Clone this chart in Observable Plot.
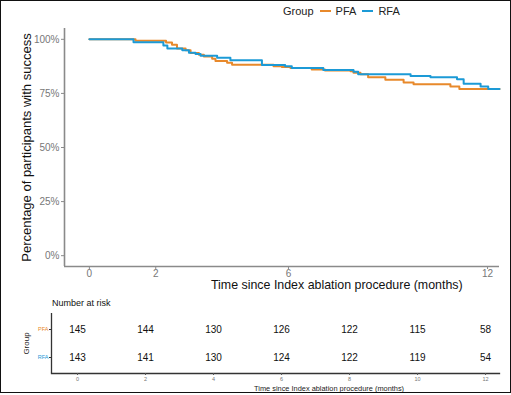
<!DOCTYPE html>
<html>
<head>
<meta charset="utf-8">
<script src="https://cdn.jsdelivr.net/npm/d3@7"></script>
<script src="https://cdn.jsdelivr.net/npm/@observablehq/plot@0.6"></script>
<style>
  body { margin: 0; background: #fff; font-family: "Liberation Sans", Arial, sans-serif; }
  #wrap { position: relative; width: 511px; height: 395px; overflow: hidden; background: #fff; }
  #wrap > * { position: absolute; }
  .frame { left: 0; top: 0; width: 509px; height: 391px; border: 1.5px solid #111; box-sizing: content-box; pointer-events: none; }
  .legend { left: 283px; top: 5px; font-size: 11px; color: #222; display: flex; align-items: center; white-space: nowrap; }
  .legend .sw { display: inline-block; width: 11px; height: 2px; margin: 0 5px 0 6px; }
  .xtitle { top: 279px; left: 211px; font-size: 12.4px; line-height: 1; color: #111; white-space: nowrap; }
  .risk-title { top: 298px; left: 52px; font-size: 9px; color: #111; white-space: nowrap; }
  .risk-xtitle { top: 384px; left: 254px; font-size: 7.4px; color: #222; white-space: nowrap; }
</style>
</head>
<body>
<div id="wrap"></div>
<script>
// ---- data ----
const groups = ["PFA", "RFA"];
const groupColors = ["#E8892B", "#1C9AD6"];

const pfaTime = [0, 1.39, 2.31, 2.49, 2.64, 2.9, 3.05, 3.3, 3.45, 3.7, 3.8, 4.15, 4.3, 5.55, 5.8, 6.06, 6.7, 7.1, 7.87, 7.96, 8.17, 8.4, 8.92, 9.47, 9.77, 10.88, 11.15, 12.36];
const pfaSurv = [100, 99.3, 98.5, 97.5, 95.7, 94.9, 93.7, 92.9, 92.1, 91.0, 90.0, 89.2, 88.3, 87.6, 87.2, 86.8, 86.1, 85.6, 85.2, 84.6, 83.8, 82.5, 81.3, 80.1, 79.2, 78.2, 77.0, 77.0];

const rfaTime = [0, 1.33, 2.23, 2.35, 2.8, 3.0, 3.2, 3.35, 3.85, 4.25, 5.2, 5.9, 6.1, 7.05, 7.96, 8.1, 9.68, 10.28, 11.08, 11.28, 11.79, 12.02, 12.36];
const rfaSurv = [100, 98.6, 97.2, 95.7, 94.9, 93.8, 93.2, 92.4, 91.5, 90.3, 88.1, 87.5, 86.7, 85.8, 85.0, 83.8, 83.0, 82.5, 81.5, 79.5, 78.2, 77.0, 77.0];

const mainXTicks = [0, 2, 6, 12];
const yTicks = [0, 25, 50, 75, 100];

const riskTimes = [0, 2, 4, 6, 8, 10, 12];
const pfaRisk = [145, 144, 130, 126, 122, 115, 58];
const rfaRisk = [143, 141, 130, 124, 122, 119, 54];

// ---- build tables ----
const curve = [
  ...pfaTime.map((t, i) => ({group: "PFA", time: t, surv: pfaSurv[i]})),
  ...rfaTime.map((t, i) => ({group: "RFA", time: t, surv: rfaSurv[i]}))
];
const risk = [
  ...riskTimes.map((t, i) => ({group: "PFA", time: t, n: pfaRisk[i]})),
  ...riskTimes.map((t, i) => ({group: "RFA", time: t, n: rfaRisk[i]}))
];

const axisGray = "#8a8a8a";
const tickGray = "#777";
const wrap = document.getElementById("wrap");

// ---- main KM plot ----
const main = Plot.plot({
  width: 511, height: 295,
  marginLeft: 64, marginRight: 12, marginTop: 28, marginBottom: 29,
  style: {fontFamily: "Liberation Sans, Arial, sans-serif", background: "transparent"},
  x: {domain: [-0.75, 12.36]},
  y: {domain: [-5, 105]},
  color: {domain: groups, range: groupColors},
  marks: [
    Plot.ruleX([-0.75], {stroke: axisGray, strokeWidth: 1.6}),
    Plot.ruleY([-5], {stroke: axisGray, strokeWidth: 1.6}),
    Plot.axisY({ticks: yTicks, tickFormat: d => d + "%", tickSize: 3, tickPadding: 2, fontSize: 10, fill: tickGray, stroke: axisGray,
      label: "Percentage of participants with success", labelAnchor: "center", labelArrow: "none", labelOffset: 43}),
    Plot.axisX({ticks: mainXTicks, tickSize: 3, tickPadding: 0, fontSize: 10, fill: tickGray, stroke: axisGray, label: null}),
    Plot.line(curve, {x: "time", y: "surv", z: "group", stroke: "group", strokeWidth: 2, curve: "step-after"})
  ]
});
main.style.left = "0px"; main.style.top = "0px";
main.querySelectorAll("g[aria-label='y-axis label'] text").forEach(t => { t.style.fontSize = "13px"; t.setAttribute("fill", "#111"); });
wrap.appendChild(main);

// ---- risk table ----
const riskPlot = Plot.plot({
  width: 511, height: 105,
  marginLeft: 51, marginRight: 12, marginTop: 23, marginBottom: 22,
  style: {fontFamily: "Liberation Sans, Arial, sans-serif", background: "transparent"},
  x: {domain: [-0.765, 12.41]},
  y: {type: "point", domain: groups, padding: 0.571},
  marks: [
    Plot.ruleX([-0.765], {stroke: "#333", strokeWidth: 1.3}),
    Plot.frame({anchor: "bottom", stroke: "#333", strokeWidth: 1.3}),
    Plot.axisY({ticks: ["PFA"], tickSize: 2, tickPadding: 1, fontSize: 5.5, fill: groupColors[0], stroke: "#333", label: null}),
    Plot.axisY({ticks: ["RFA"], tickSize: 2, tickPadding: 1, fontSize: 5.5, fill: groupColors[1], stroke: "#333",
      label: "Group", labelAnchor: "center", labelArrow: "none", labelOffset: 28}),
    Plot.axisX({ticks: riskTimes, tickSize: 2, tickPadding: 2, fontSize: 5.5, fill: tickGray, stroke: "#555", label: null}),
    Plot.text(risk, {x: "time", y: "group", text: "n", fontSize: 10, fill: "#111"})
  ]
});
riskPlot.style.left = "0px"; riskPlot.style.top = "290px";
riskPlot.querySelectorAll("g[aria-label='y-axis label'] text").forEach(t => { t.style.fontSize = "8px"; t.setAttribute("fill", "#222"); });
wrap.appendChild(riskPlot);

// ---- html text ----
function addDiv(cls, html) { const d = document.createElement("div"); d.className = cls; d.innerHTML = html; wrap.appendChild(d); return d; }
addDiv("legend", `<span>Group</span><span class="sw" style="background:${groupColors[0]}"></span><span>${groups[0]}</span><span class="sw" style="background:${groupColors[1]}"></span><span>${groups[1]}</span>`);
addDiv("xtitle", "Time since Index ablation procedure (months)");
addDiv("risk-title", "Number at risk");
addDiv("risk-xtitle", "Time since Index ablation procedure (months)");
addDiv("frame", "");
</script>
</body>
</html>
